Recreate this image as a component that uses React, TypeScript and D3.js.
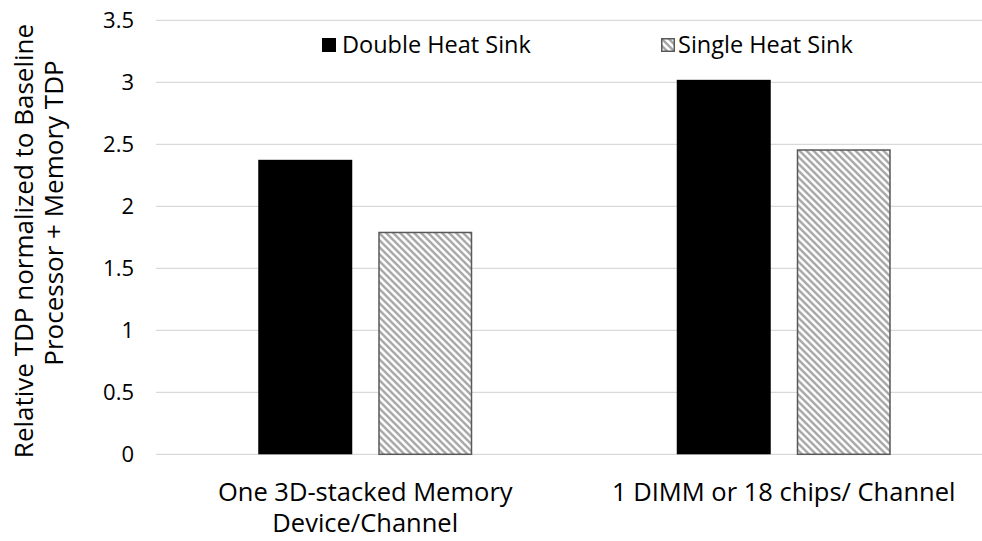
import React from "react";
import * as d3 from "d3";

const categories: string[][] = [
  ["One 3D-stacked Memory", "Device/Channel"],
  ["1 DIMM or 18 chips/ Channel"],
];
const categoryKeys = ["3d", "dimm"];
const seriesNames = ["Double Heat Sink", "Single Heat Sink"];
const doubleHeatSink = [2.375, 3.02];
const singleHeatSink = [1.795, 2.46];
const yTicks = [0, 0.5, 1, 1.5, 2, 2.5, 3, 3.5];
const yTitle = ["Relative TDP normalized to Baseline", "Processor + Memory TDP"];

const W = 982;
const H = 541;
const FONT = "'Open Sans', sans-serif";

export default function App() {
  const plotLeft = 156;
  const plotRight = 993;
  const y = d3.scaleLinear().domain([0, 3.5]).range([454.3, 20.3]);
  const x0 = d3.scaleBand<string>().domain(categoryKeys).range([plotLeft, plotRight]).padding(0);
  const groupW = 214;
  const x1 = d3
    .scaleBand<string>()
    .domain(seriesNames)
    .range([0, groupW])
    .paddingInner(26 / 120)
    .paddingOuter(0);
  const groupOffset = (x0.bandwidth() - groupW) / 2;
  const values = [doubleHeatSink, singleHeatSink];

  return (
    <svg
      width={W}
      height={H}
      style={{ position: "fixed", left: 0, top: 0, background: "#fff" }}
      fontFamily={FONT}
    >
      <defs>
        <pattern id="hatch" patternUnits="userSpaceOnUse" width={7} height={7}>
          <rect width={7} height={7} fill="#fff" />
          <path d="M-1,-1 L8,8 M-1,6 L1,8 M6,-1 L8,1" stroke="#a6a6a6" strokeWidth={2.4} />
        </pattern>
      </defs>
      <rect width={W} height={H} fill="#fff" />

      {/* gridlines */}
      {yTicks.map((t) => (
        <line
          key={t}
          x1={plotLeft}
          x2={W}
          y1={y(t)}
          y2={y(t)}
          stroke="#d9d9d9"
          strokeWidth={1.3}
        />
      ))}

      {/* y tick labels */}
      {yTicks.map((t) => (
        <text
          key={"l" + t}
          x={134}
          y={y(t)}
          dy="0.35em"
          textAnchor="end"
          fontSize={22}
          fill="#000"
        >
          {t}
        </text>
      ))}

      {/* y title */}
      <text transform="translate(33,241) rotate(-90)" textAnchor="middle" fontSize={26} fill="#000">
        {yTitle[0]}
      </text>
      <text transform="translate(63,213) rotate(-90)" textAnchor="middle" fontSize={26} fill="#000">
        {yTitle[1]}
      </text>

      {/* bars */}
      {categoryKeys.map((c, ci) => (
        <g key={c} transform={`translate(${(x0(c) ?? 0) + groupOffset},0)`}>
          {seriesNames.map((s, si) => {
            const v = values[si][ci];
            const bx = x1(s) ?? 0;
            return si === 0 ? (
              <rect
                key={s}
                x={bx}
                y={y(v)}
                width={x1.bandwidth()}
                height={y(0) - y(v)}
                fill="#000"
              />
            ) : (
              <rect
                key={s}
                x={bx + 0.75}
                y={y(v) + 0.75}
                width={x1.bandwidth() - 1.5}
                height={y(0) - y(v) - 0.75}
                fill="url(#hatch)"
                stroke="#595959"
                strokeWidth={1.5}
              />
            );
          })}
        </g>
      ))}

      {/* category labels */}
      {categoryKeys.map((c, ci) => (
        <text
          key={"c" + c}
          x={(x0(c) ?? 0) + groupOffset + groupW / 2}
          y={501}
          textAnchor="middle"
          fontSize={25.5}
          fill="#000"
        >
          {categories[ci].map((line, li) => (
            <tspan key={li} x={(x0(c) ?? 0) + groupOffset + groupW / 2} dy={li === 0 ? 0 : 31}>
              {line}
            </tspan>
          ))}
        </text>
      ))}

      {/* legend */}
      <rect x={322} y={38} width={14} height={14} fill="#000" />
      <text x={342} y={45} dy="0.35em" fontSize={23.5} fill="#000">
        {seriesNames[0]}
      </text>
      <rect x={661.75} y={38.75} width={12.5} height={12.5} fill="url(#hatch)" stroke="#595959" strokeWidth={1.5} />
      <text x={678} y={45} dy="0.35em" fontSize={23.5} fill="#000">
        {seriesNames[1]}
      </text>
    </svg>
  );
}
